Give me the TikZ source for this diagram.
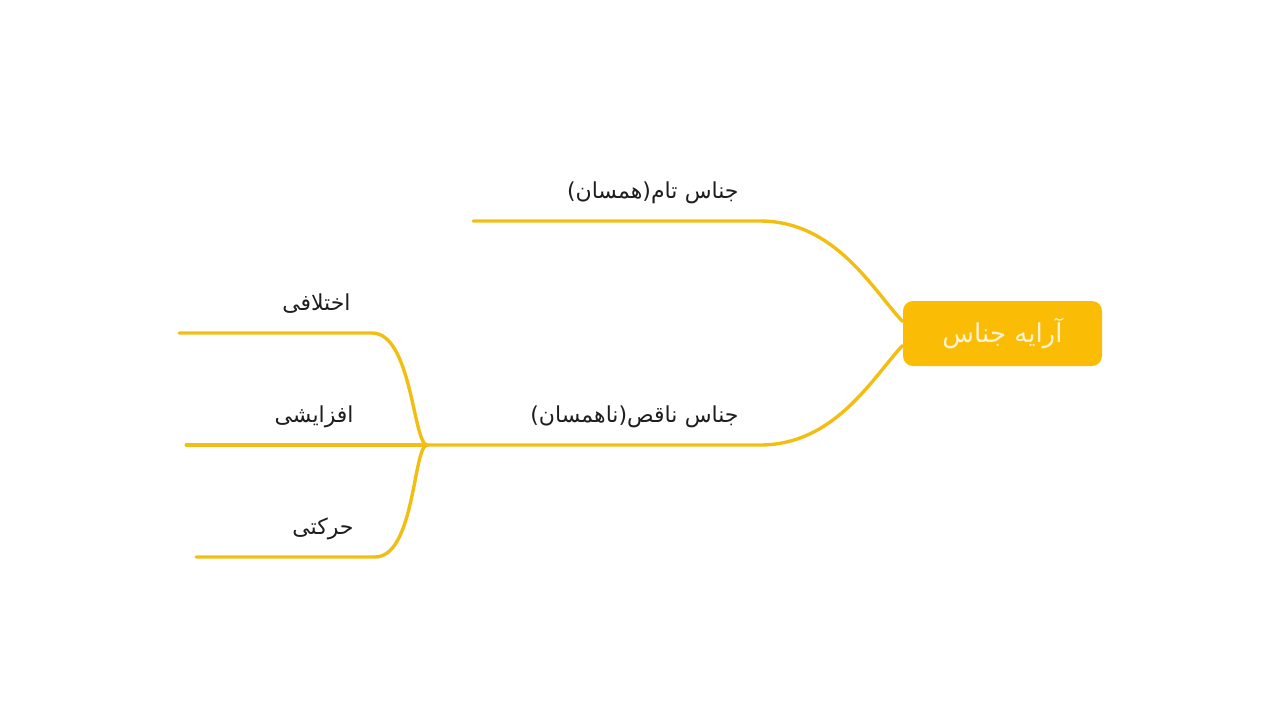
\documentclass[tikz,border=0pt]{standalone}
\usepackage{fontspec}
\newfontfamily\arabicfont[Script=Arabic]{DejaVu Sans}
\TeXXeTstate=1
\definecolor{amber}{RGB}{251,188,5}
\definecolor{branchline}{RGB}{243,190,20}
\definecolor{cream}{RGB}{255,243,210}
\definecolor{inkgray}{RGB}{30,30,30}
\tikzset{
  topic/.style={text width=#1, align=right, inner xsep=10.5pt, inner ysep=0pt,
    text height=10pt, text depth=11pt, text=inkgray, font=\arabicfont\fontsize{11}{13}\selectfont},
  branch/.style={draw=branchline, line width=1.7pt, line cap=round},
  rootbox/.style={fill=amber, rounded corners=5pt, minimum width=99.5pt,
    minimum height=32.5pt, text height=11pt, text depth=2pt, text=cream,
    font=\arabicfont\fontsize{13}{15}\selectfont}
}
\begin{document}
\begin{tikzpicture}[x=0.5pt, y=-0.5pt]
\useasboundingbox (0,0) rectangle (1280,720);
\node[rootbox] (root) at (1002.5,333.5){\beginR آرایه جناس\endR};
\node[topic=122pt, anchor=south east] (tam) at (760,221){\beginR جناس تام(همسان)\endR};
\node[topic=145pt, anchor=south east] (naqes) at (760,445){\beginR جناس ناقص(ناهمسان)\endR};
\node[topic=75pt, anchor=south east] (ekh) at (372,333){\beginR اختلافی\endR};
\node[topic=73pt, anchor=south east] (afz) at (375,445){\beginR افزایشی\endR};
\node[topic=68pt, anchor=south east] (harakat) at (375,557){\beginR حرکتی\endR};
\draw[branch] ([yshift=6pt]root.west) .. controls +(-30,-32) and +(75,0) .. (tam.south east) -- (tam.south west);
\draw[branch] ([yshift=-6pt]root.west) .. controls +(-30,32) and +(75,0) .. (naqes.south east) -- (naqes.south west);
\draw[branch] (naqes.south west) .. controls +(-14,0) and +(40,0) .. (ekh.south east) -- (ekh.south west);
\draw[branch] (naqes.south west) -- (afz.south east) -- (afz.south west);
\draw[branch] (naqes.south west) .. controls +(-14,0) and +(40,0) .. (harakat.south east) -- (harakat.south west);
\end{tikzpicture}
\end{document}
